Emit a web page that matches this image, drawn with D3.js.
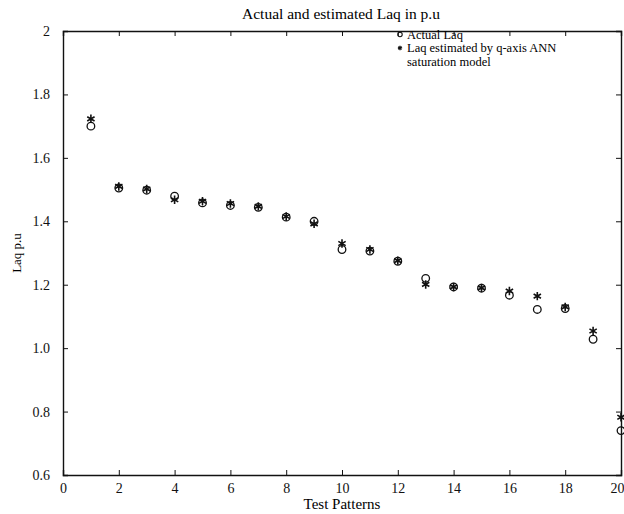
<!DOCTYPE html>
<html>
<head>
<meta charset="utf-8">
<script src="https://cdnjs.cloudflare.com/ajax/libs/d3/7.8.5/d3.min.js"></script>
<style>
  body { margin: 0; background: #fff; }
  svg { font-family: "Liberation Serif", "Times New Roman", serif; }
  .axis path, .axis line { stroke: #111; }
  .axis text { font-family: "Liberation Serif", "Times New Roman", serif; font-size: 14px; fill: #111; }
</style>
</head>
<body>
<svg width="624" height="514"></svg>
<script>
// data
var patterns = [1, 2, 3, 4, 5, 6, 7, 8, 9, 10, 11, 12, 13, 14, 15, 16, 17, 18, 19, 20];
var actualLaq = [1.700, 1.505, 1.498, 1.479, 1.458, 1.450, 1.444, 1.413, 1.400, 1.311,
                 1.306, 1.274, 1.220, 1.193, 1.189, 1.167, 1.122, 1.125, 1.028, 0.740];
var estimatedLaq = [1.723, 1.510, 1.502, 1.468, 1.463, 1.456, 1.447, 1.415, 1.392, 1.330,
                    1.311, 1.276, 1.201, 1.193, 1.190, 1.180, 1.164, 1.130, 1.054, 0.782];
var xTicks = [0, 2, 4, 6, 8, 10, 12, 14, 16, 18, 20];
var yTicks = [0.6, 0.8, 1.0, 1.2, 1.4, 1.6, 1.8, 2.0];
var legendLabels = ["Actual Laq", "Laq estimated by q-axis ANN", "saturation model"];

var svg = d3.select("svg");
var margin = {top: 31, right: 3, bottom: 39, left: 63};
var width = 624 - margin.left - margin.right;
var height = 514 - margin.top - margin.bottom;

var g = svg.append("g").attr("transform", "translate(" + margin.left + "," + margin.top + ")");

var x = d3.scaleLinear().domain([0, 20]).range([0, width]);
var y = d3.scaleLinear().domain([0.6, 2]).range([height, 0]);

var yFmt = function(d) { return d === 2 ? "2" : d3.format(".1f")(d); };

// axes with inward ticks, box round the plot
var xAxis = g.append("g").attr("class", "axis")
    .attr("transform", "translate(0," + height + ")")
    .call(d3.axisBottom(x).tickValues(xTicks).tickSize(-5).tickPadding(8).tickFormat(d3.format("d")));
g.append("g").attr("class", "axis")
    .call(d3.axisTop(x).tickValues(xTicks).tickSize(-5).tickFormat(""));
g.append("g").attr("class", "axis")
    .call(d3.axisLeft(y).tickValues(yTicks).tickSize(-5).tickPadding(13).tickFormat(yFmt));
g.append("g").attr("class", "axis")
    .attr("transform", "translate(" + width + ",0)")
    .call(d3.axisRight(y).tickValues(yTicks).tickSize(-5).tickFormat(""));

g.selectAll(".axis").attr("font-family", null).attr("font-size", null);
g.selectAll(".axis path").attr("stroke-width", 1.4);

// last x label sits at the page edge: pull it inside
xAxis.selectAll(".tick text")
    .filter(function(d) { return d === 20; })
    .attr("text-anchor", "end")
    .attr("dx", 3);

// actual: open circles
g.selectAll(".actual")
    .data(patterns)
  .enter().append("circle")
    .attr("class", "actual")
    .attr("cx", function(d) { return x(d); })
    .attr("cy", function(d, i) { return y(actualLaq[i]); })
    .attr("r", 3.8)
    .attr("fill", "none")
    .attr("stroke", "#111")
    .attr("stroke-width", 1.3);

// estimated: asterisks
var star = d3.symbol().type(d3.symbolAsterisk).size(50);
g.selectAll(".estimated")
    .data(patterns)
  .enter().append("path")
    .attr("class", "estimated")
    .attr("d", star)
    .attr("transform", function(d, i) { return "translate(" + x(d) + "," + y(estimatedLaq[i]) + ")"; })
    .attr("fill", "none")
    .attr("stroke", "#111")
    .attr("stroke-width", 1.6);

// title and labels
svg.append("text")
    .attr("x", margin.left + width / 2 - 1)
    .attr("y", 19)
    .attr("text-anchor", "middle")
    .attr("font-size", 15.5)
    .text("Actual and estimated Laq in p.u");

svg.append("text")
    .attr("x", margin.left + width / 2)
    .attr("y", 509)
    .attr("text-anchor", "middle")
    .attr("font-size", 15)
    .text("Test Patterns");

svg.append("text")
    .attr("transform", "translate(21,253) rotate(-90)")
    .attr("text-anchor", "middle")
    .attr("font-size", 13)
    .text("Laq p.u");

// legend
var legendGap = 13.5;
var legend = svg.append("g").attr("transform", "translate(400,0)");
legend.append("circle")
    .attr("cx", 0).attr("cy", 34.5).attr("r", 2.2)
    .attr("fill", "none").attr("stroke", "#111").attr("stroke-width", 1.1);
legend.append("path")
    .attr("d", d3.symbol().type(d3.symbolAsterisk).size(14))
    .attr("transform", "translate(0," + (34.5 + legendGap) + ")")
    .attr("fill", "none").attr("stroke", "#111").attr("stroke-width", 1.3);
legend.selectAll(".legtext")
    .data(legendLabels)
  .enter().append("text")
    .attr("class", "legtext")
    .attr("x", 7)
    .attr("y", function(d, i) { return 38.5 + i * legendGap; })
    .attr("font-size", 12.5)
    .text(function(d) { return d; });
</script>
</body>
</html>
